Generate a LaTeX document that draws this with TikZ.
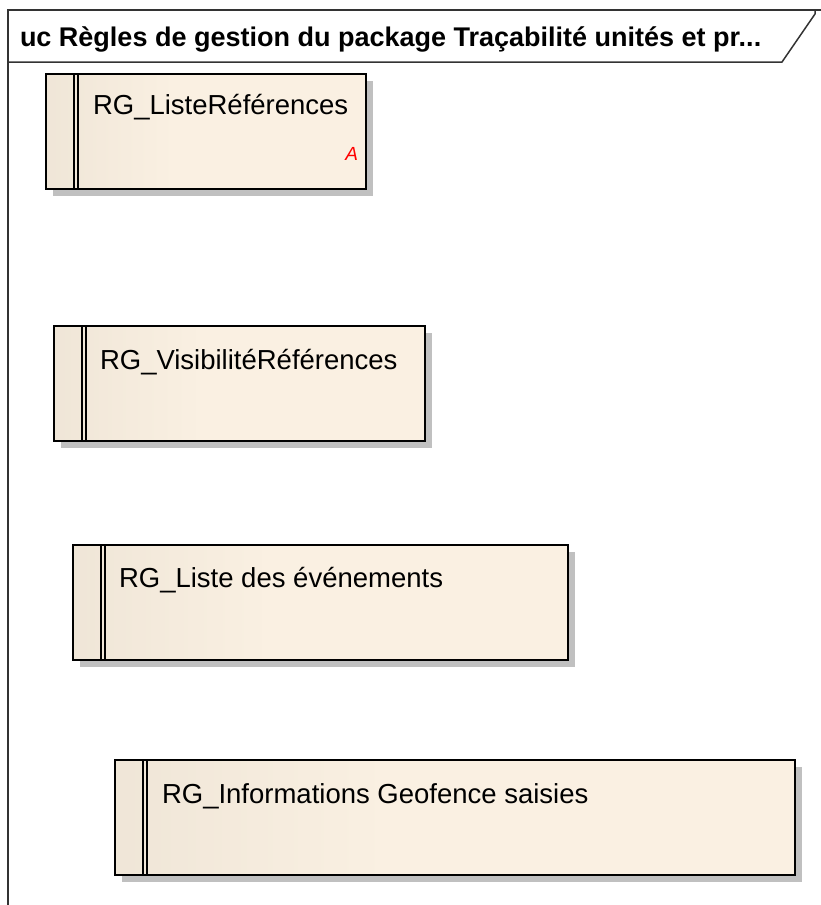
\documentclass[tikz,border=0pt]{standalone}
\usepackage{fontspec}
\setmainfont{Liberation Sans}
\usepackage{xcolor}
\usetikzlibrary{arrows.meta, positioning, calc, shadows}

\definecolor{rgleft}{HTML}{E2D9CA}
\definecolor{rgright}{HTML}{FAF0E2}
\definecolor{rgshadow}{HTML}{C0C0C0}
\pgfdeclarehorizontalshading{rgshade}{100bp}{color(0bp)=(rgleft); color(45bp)=(rgright); color(100bp)=(rgright)}

\begin{document}
\begin{tikzpicture}[x=1pt, y=-1pt,
    every node/.style={inner sep=0pt, outer sep=0pt},
    rgbox/.style={rectangle, draw=black, line width=2.4pt, anchor=north west,
        minimum height=115pt, shading=rgshade,
        drop shadow={shadow xshift=7pt, shadow yshift=-7pt, fill=rgshadow, opacity=1}},
    rgbar/.style={line width=2pt},
    rgtext/.style={anchor=base west, font=\fontsize{27.5}{30}\selectfont},
    frame/.style={draw=black!80, line width=1.5pt}]
    \useasboundingbox (0,0) rectangle (821,905);

    % cadre du diagramme
    \draw[frame] (8,905) -- (8,10) -- (821,10);
    \draw[frame] (8,62) -- (782,62) -- (815,14) -- (815,10);
    \node[anchor=base west, font=\bfseries\fontsize{27}{30}\selectfont] (titre) at (20,46)
        {uc Règles de gestion du package Traçabilité unités et pr...};

    % regles de gestion
    \node[rgbox, minimum width=320pt] (rg1) at (46,74) {};
    \node[rgbox, minimum width=371pt] (rg2) at (54,326) {};
    \node[rgbox, minimum width=495pt] (rg3) at (73,545) {};
    \node[rgbox, minimum width=680pt] (rg4) at (115,760) {};

    \foreach \b in {rg1, rg2, rg3, rg4} {
        \draw[rgbar] ([xshift=28pt]\b.north west) -- ([xshift=28pt]\b.south west);
        \draw[rgbar] ([xshift=32pt]\b.north west) -- ([xshift=32pt]\b.south west);
    }

    \node[rgtext] (t1) at ([shift={(47,40)}]rg1.north west) {RG\_ListeRéférences};
    \node[rgtext] (t2) at ([shift={(46,43)}]rg2.north west) {RG\_VisibilitéRéférences};
    \node[rgtext] (t3) at ([shift={(46,42)}]rg3.north west) {RG\_Liste des événements};
    \node[rgtext] (t4) at ([shift={(47,43)}]rg4.north west) {RG\_Informations Geofence saisies};

    \node[anchor=base east, text=red, font=\itshape\fontsize{19}{21}\selectfont] (abstr)
        at ([shift={(-8,-29)}]rg1.south east) {A};
\end{tikzpicture}
\end{document}
